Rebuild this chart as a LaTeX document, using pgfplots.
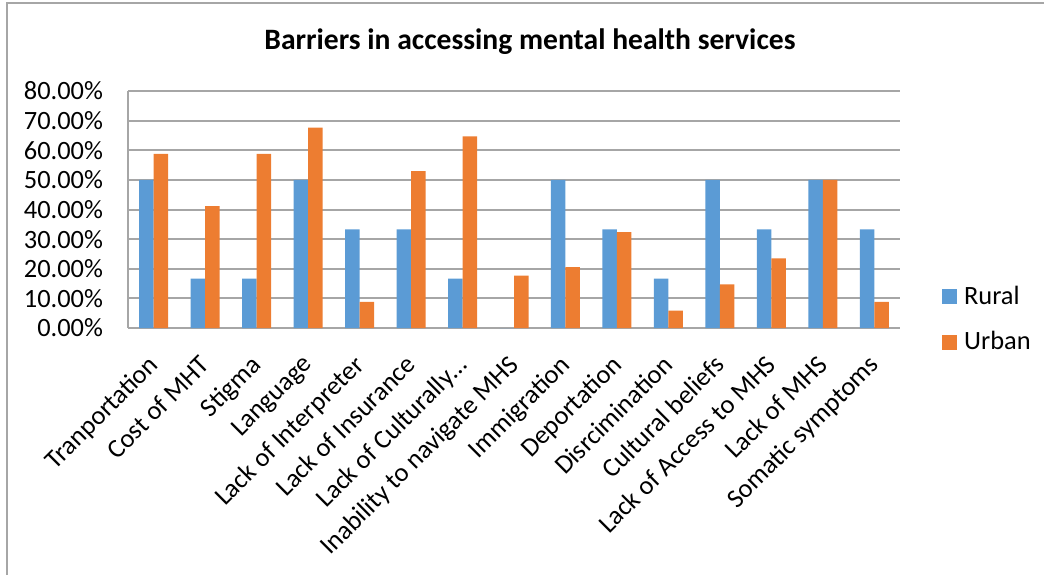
\documentclass[border=0pt]{standalone}
\usepackage{pgfplots}
\pgfplotsset{compat=1.18}
\usepackage{fontspec}
\setmainfont{Carlito}
\definecolor{rural}{RGB}{91,155,213}
\definecolor{urban}{RGB}{237,125,49}
\definecolor{gridc}{RGB}{166,166,166}
\begin{document}
\begin{tikzpicture}
\path[use as bounding box] (0,0) rectangle (522pt,287.5pt);
\draw[gridc, line width=0.75pt] (3.5pt,0) -- (3.5pt,286pt) -- (522pt,286pt);
\node[font=\fontsize{14.8}{17}\selectfont\bfseries] at (265pt,266.5pt) {Barriers in accessing mental health services};
\begin{axis}[
  at={(64pt,123.5pt)}, anchor=south west, scale only axis,
  width=386pt, height=118.5pt,
  ybar=0pt, bar width=7.25pt,
  xmin=-0.5, xmax=14.5, ymin=0, ymax=80,
  ytick={0,10,...,80},
  xtick={0,...,14},
  xticklabels={Tranportation,Cost of MHT,Stigma,Language,Lack of Interpreter,Lack of Insurance,Lack of Culturally…,Inability to navigate MHS,Immigration,Deportation,Disrcimination,Cultural beliefs,Lack of Access to MHS,Lack of MHS,Somatic symptoms},
  ymajorgrids, grid style={gridc, line width=1pt},
  axis x line*=bottom, axis y line*=left,
  axis line style={gridc, line width=1pt, -},
  major tick length=0pt,
  tick label style={font=\fontsize{13.2}{15.5}\selectfont},
  /pgf/number format/assume math mode=true,
  yticklabel={\pgfmathprintnumber[fixed,fixed zerofill,precision=2]{\tick}\%},
  yticklabel style={xshift=-9pt},
  xticklabel style={xshift=-3.5pt, yshift=-12.5pt, rotate=45, anchor=north east, inner sep=0pt},
  legend style={draw=none, fill=none, at={(1.054,0.036)}, anchor=west, inner sep=0pt,
    row sep=8pt, font=\fontsize{13.2}{15.5}\selectfont,
    nodes={inner xsep=3.5pt}},
  legend cell align=left,
  sqlegend/.style={legend image code/.code={\path[##1] (0pt,-3.75pt) rectangle (7.5pt,3.75pt);}},
]
\addplot[fill=rural, draw=none, sqlegend] coordinates {
(0,50) (1,16.67) (2,16.67) (3,50) (4,33.33) (5,33.33) (6,16.67) (7,0) (8,50) (9,33.33) (10,16.67) (11,50) (12,33.33) (13,50) (14,33.33)};
\addplot[fill=urban, draw=none, sqlegend] coordinates {
(0,58.82) (1,41.18) (2,58.82) (3,67.65) (4,8.82) (5,52.94) (6,64.71) (7,17.65) (8,20.59) (9,32.35) (10,5.88) (11,14.71) (12,23.53) (13,50) (14,8.82)};
\legend{Rural,Urban}
\end{axis}
\end{tikzpicture}
\end{document}
